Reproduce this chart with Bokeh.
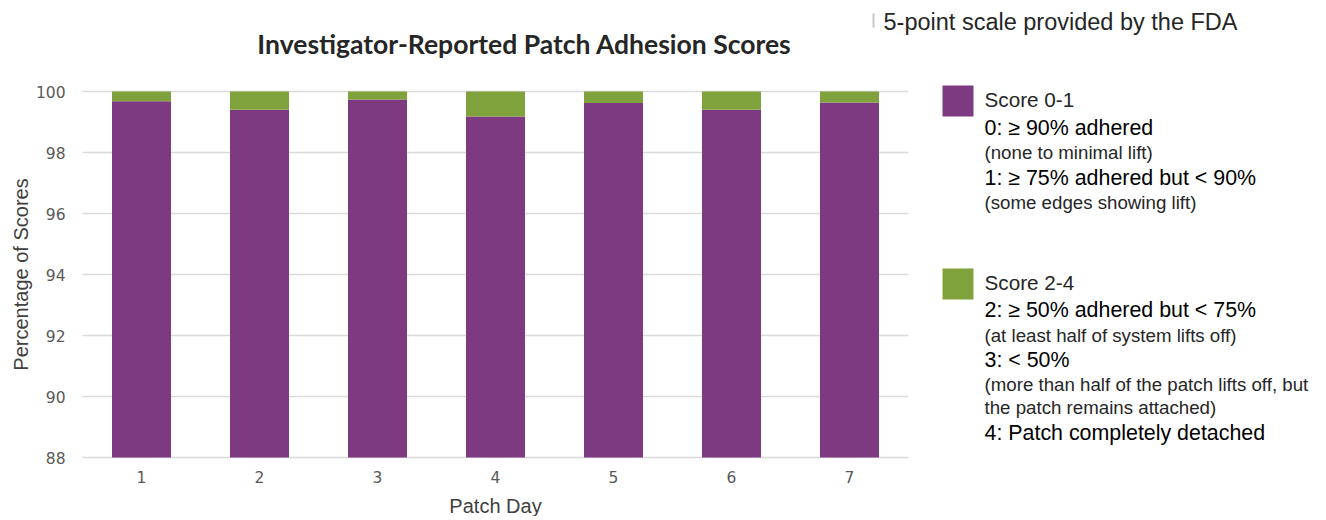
import math
from bokeh.plotting import figure
from bokeh.models import Range1d, FixedTicker
from bokeh.core.properties import value
from bokeh.embed import file_html
from bokeh.resources import INLINE

# ---------------- data ----------------
days = [1, 2, 3, 4, 5, 6, 7]
day_labels = ["1", "2", "3", "4", "5", "6", "7"]
score_0_1 = [99.68, 99.40, 99.74, 99.18, 99.62, 99.40, 99.64]
score_2_4 = [round(100 - v, 2) for v in score_0_1]
y_ticks = [88, 90, 92, 94, 96, 98, 100]

title_text = "Investigator-Reported Patch Adhesion Scores"
y_label_text = "Percentage of Scores"
x_label_text = "Patch Day"
note_text = "5-point scale provided by the FDA"
legend1_head = "Score 0-1"
legend1_lines = [("0: \u2265 90% adhered", "big"), ("(none to minimal lift)", "small"),
                 ("1: \u2265 75% adhered but < 90%", "big"), ("(some edges showing lift)", "small")]
legend2_head = "Score 2-4"
legend2_lines = [("2: \u2265 50% adhered but < 75%", "big"), ("(at least half of system lifts off)", "small"),
                 ("3: < 50%", "big"), ("(more than half of the patch lifts off, but", "small"),
                 ("the patch remains attached)", "small"), ("4: Patch completely detached", "big")]

PURPLE = "#7E3A80"
GREEN = "#80A23C"

# ---------------- layout constants (pixels) ----------------
W, H = 1318, 516
PLOT_L = 82          # pixel where x = 0.5
PLOT_B = 457         # pixel where y = 88
PX_PER_X = 118.0
PX_PER_Y = 30.5

x0 = 0.5
y0 = 88.0


def dx(px):
    return x0 + (px - PLOT_L) / PX_PER_X


def dy(py):
    return y0 + (PLOT_B - py) / PX_PER_Y


p = figure(frame_width=W, frame_height=H,
           min_border_left=0, min_border_right=0, min_border_top=0, min_border_bottom=0,
           x_range=Range1d(dx(0), dx(W)), y_range=Range1d(dy(H), dy(0)),
           output_backend="svg", toolbar_location=None)
p.outline_line_color = None
p.background_fill_color = "white"
p.border_fill_color = "white"
p.xgrid.visible = False
p.ygrid.visible = False

# grid lines over the plotting span only
p.segment(x0=[x0] * len(y_ticks), x1=[x0 + len(days)] * len(y_ticks),
          y0=y_ticks, y1=y_ticks, line_color="#D9D9D9", line_width=1.3)

# stacked bars
bw = 0.5
p.vbar(x=days, width=bw, bottom=y0, top=score_0_1, fill_color=PURPLE, line_color=None)
p.vbar(x=days, width=bw, bottom=score_0_1, top=[a + b for a, b in zip(score_0_1, score_2_4)],
       fill_color=GREEN, line_color=None)

# axes, pinned to the plotting span
TICK_FONT = "DejaVu Sans"
for ax in (p.xaxis[0], p.yaxis[0]):
    ax.axis_line_color = None
    ax.major_tick_line_color = None
    ax.minor_tick_line_color = None
    ax.major_tick_out = 0
    ax.major_tick_in = 0
    ax.major_label_text_font = TICK_FONT
    ax.major_label_text_font_size = "15.5px"
    ax.major_label_text_color = "#595959"

p.yaxis.ticker = FixedTicker(ticks=y_ticks)
p.yaxis.fixed_location = x0
p.yaxis.major_label_standoff = 17

p.xaxis.ticker = FixedTicker(ticks=days)
p.xaxis.major_label_overrides = {d: s for d, s in zip(days, day_labels)}
p.xaxis.fixed_location = y0
p.xaxis.major_label_standoff = 13

# axis titles
p.text(x=[dx(20)], y=[dy(274)], text=[y_label_text], angle=math.pi / 2,
       text_font=value("Liberation Sans"), text_font_size="20px", text_color="#404040",
       text_align="center", text_baseline="middle")
p.text(x=[(x0 + x0 + len(days)) / 2], y=[dy(505)], text=[x_label_text],
       text_font=value("Liberation Sans"), text_font_size="20px", text_color="#404040",
       text_align="center", text_baseline="middle")

# title
p.text(x=[dx(524)], y=[dy(43)], text=[title_text], text_font=value("Lato"),
       text_font_style="bold", text_font_size="26.5px", text_color="#262626",
       text_align="center", text_baseline="middle")

# note at top right
p.quad(left=[dx(872)], right=[dx(874)], top=[dy(13)], bottom=[dy(27)],
       fill_color="#C8C8C8", line_color=None)
p.text(x=[dx(883)], y=[dy(21)], text=[note_text], text_font=value("Liberation Sans"),
       text_font_size="23.5px", text_color="#262626", text_baseline="middle")

# legend
TX = 984
p.quad(left=[dx(942)], right=[dx(973)], top=[dy(85)], bottom=[dy(116)],
       fill_color=PURPLE, line_color=None)
p.quad(left=[dx(942)], right=[dx(973)], top=[dy(268)], bottom=[dy(299)],
       fill_color=GREEN, line_color=None)


def block(head, lines, y_head, ys):
    p.text(x=[dx(TX)], y=[dy(y_head)], text=[head], text_font=value("Liberation Sans"),
           text_font_size="20.7px", text_color="#262626", text_baseline="middle")
    for (t, kind), yy in zip(lines, ys):
        p.text(x=[dx(TX)], y=[dy(yy)], text=[t], text_font=value("Liberation Sans"),
               text_font_size="21.4px" if kind == "big" else "18.7px",
               text_color="#000000" if kind == "big" else "#262626",
               text_baseline="middle")


block(legend1_head, legend1_lines, 99, [127, 152, 177, 202])
block(legend2_head, legend2_lines, 282, [309, 335, 359, 384, 407, 432])

open("out.html", "w").write(file_html(p, INLINE))
